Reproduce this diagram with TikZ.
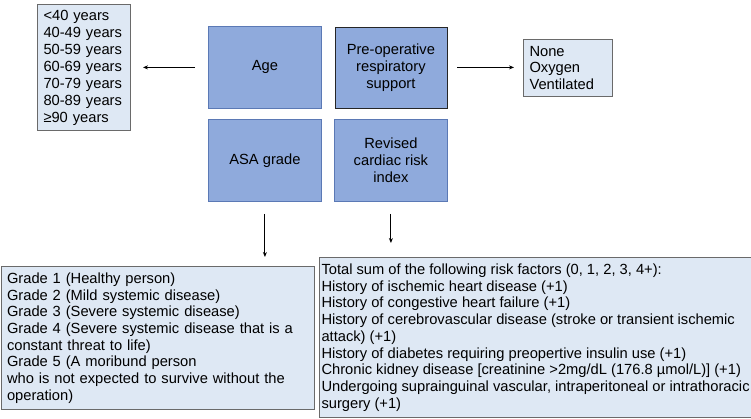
\documentclass[tikz,border=0pt]{standalone}
\usepackage{fontspec}
\setmainfont{Liberation Sans}
\usetikzlibrary{arrows.meta}
\definecolor{mainfill}{HTML}{8FAADC}
\definecolor{mainborder}{HTML}{5B79B5}
\definecolor{listfill}{HTML}{DEE8F4}
\definecolor{listborder}{HTML}{6A6A6A}
\begin{document}
\begin{tikzpicture}[x=1pt,y=-1pt,
  mainbox/.style={draw=mainborder,line width=0.8pt,fill=mainfill,anchor=north west,
    align=center,inner sep=0pt,font=\fontsize{14.7}{16.8}\selectfont},
  listbox/.style={draw=listborder,line width=1pt,fill=listfill,anchor=north west,
    align=left,inner xsep=6pt,inner ysep=0pt},
  conn/.style={-{Stealth[length=5pt,width=4pt]},line width=1.1pt,black}]
\useasboundingbox (0,0) rectangle (751,418);
\node[mainbox,minimum width=113pt,minimum height=82pt] (age) at (208,26) {Age};
\node[mainbox,draw=black!85,minimum width=112pt,minimum height=81pt] (resp) at (334.5,26.5) {Pre-operative\\respiratory\\support};
\node[mainbox,minimum width=113pt,minimum height=82pt] (asa) at (208,119) {ASA grade};
\node[mainbox,minimum width=113pt,minimum height=82pt] (rcri) at (334,119) {Revised\\cardiac risk\\index};
\node[listbox,minimum height=126pt,text width=81pt,font=\fontsize{14.7}{17}\selectfont] (agelist) at (37,4)
  {<40 years\\40-49 years\\50-59 years\\60-69 years\\70-79 years\\80-89 years\\≥90 years};
\node[listbox,minimum height=57pt,text width=77pt,font=\fontsize{14.7}{16.7}\selectfont] (resplist) at (523,39)
  {None\\Oxygen\\Ventilated};
\node[listbox,minimum height=143pt,text width=301pt,font=\fontsize{14.7}{16.7}\selectfont] (asalist) at (0.5,266)
  {Grade 1 (Healthy person)\\Grade 2 (Mild systemic disease)\\Grade 3 (Severe systemic disease)\\Grade 4 (Severe systemic disease that is a\\constant threat to life)\\Grade 5 (A moribund person\\who is not expected to survive without the\\operation)};
\node[listbox,minimum height=160pt,minimum width=430pt,inner xsep=2pt,font=\fontsize{14.7}{16.7}\selectfont] (rcrilist) at (319,257)
  {Total sum of the following risk factors (0, 1, 2, 3, 4+):\\History of ischemic heart disease (+1)\\History of congestive heart failure (+1)\\History of cerebrovascular disease (stroke or transient ischemic\\attack) (+1)\\History of diabetes requiring preopertive insulin use (+1)\\Chronic kidney disease [creatinine >2mg/dL (176.8 µmol/L)] (+1)\\Undergoing suprainguinal vascular, intraperitoneal or intrathoracic\\surgery (+1)};
\draw[conn,shorten <=13pt,shorten >=12pt] (age.west) -- (age.west -| agelist.east);
\draw[conn,shorten <=10pt,shorten >=9pt] (resp.east) -- (resp.east -| resplist.west);
\draw[conn,shorten <=12pt,shorten >=9pt] (asa.south) -- (asa.south |- asalist.north);
\draw[conn,shorten <=12pt,shorten >=14pt] (rcri.south) -- (rcri.south |- rcrilist.north);
\end{tikzpicture}
\end{document}
